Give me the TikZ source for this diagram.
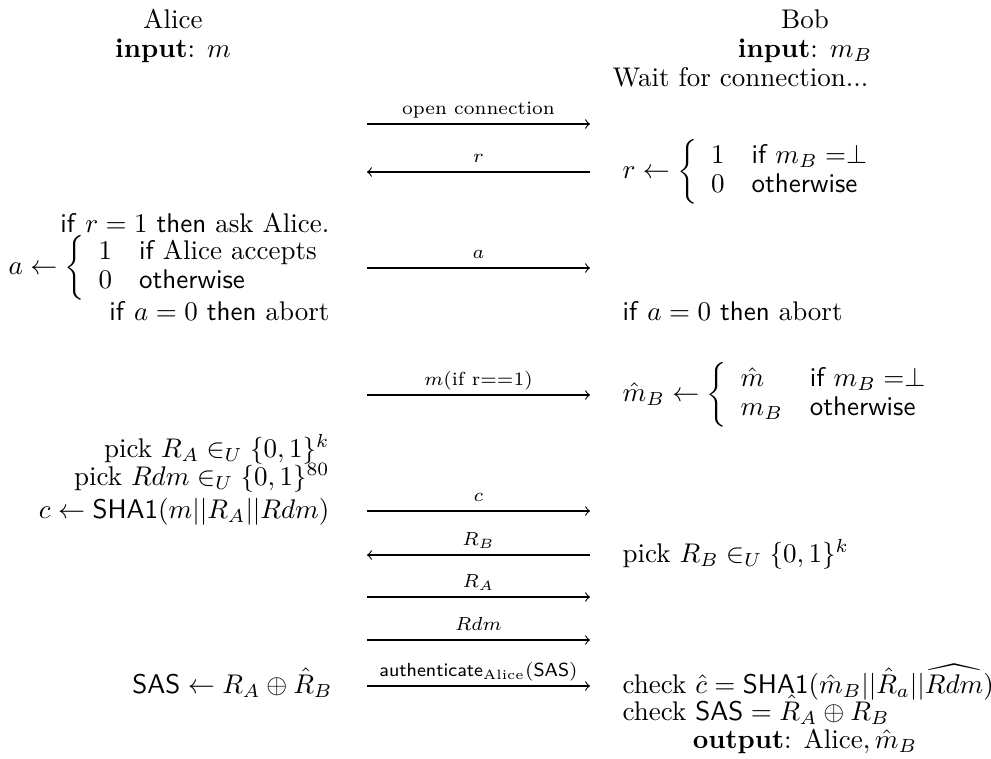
\documentclass[tikz,border=0pt]{standalone}
\usepackage{amsmath,amssymb}
\newcommand{\twocase}[4]{\left\{\renewcommand{\arraystretch}{0.9}\begin{array}{ll} #1 & #2 \\ #3 & #4 \end{array}\right.}
\begin{document}
\begin{tikzpicture}[x=0.3704pt,y=-0.3704pt,every node/.style={inner sep=0pt},
  alc/.style={anchor=base east},bobc/.style={anchor=base west},hdr/.style={anchor=base},
  msg/.style={->},lbl/.style={font=\scriptsize,anchor=base,yshift=3.4pt}]
\useasboundingbox (0,0) rectangle (991,758);
% parties
\node[hdr] (alice) at (173,28) {Alice}; \node[hdr] (ain) at (173,57) {\textbf{input}: $m$};
\node[hdr] (bob) at (805,28) {Bob}; \node[hdr] (bin) at (805,57) {\textbf{input}: $m_B$};
\node[bobc] (wait) at (612,86) {Wait for connection...};
% message rows
\foreach \n/\y in {open/124,r/172,a/268,m/395,c/511,rb/555,ra/597,rdm/640,auth/686}
  {\coordinate (\n L) at (367,\y); \coordinate (\n R) at (590,\y);}
\draw[msg] (openL) -- node[lbl] {open connection} (openR);
\draw[msg] (rR) -- node[lbl] {$r$} (rL);
\node[anchor=west] (rset) at (622,172) {$r \leftarrow \twocase{1}{\textsf{if } m_B = \perp}{0}{\textsf{otherwise}}$};
\node[alc] (ask) at (330,232) {\textsf{if} $r=1$ \textsf{then} ask Alice.};
\node[anchor=east] (aset) at (334,268) {$a \leftarrow \twocase{1}{\textsf{if } \text{Alice accepts}}{0}{\textsf{otherwise}}$};
\draw[msg] (aL) -- node[lbl] {$a$} (aR);
\node[alc] (aabort) at (330,320) {\textsf{if} $a=0$ \textsf{then} abort};
\node[bobc] (babort) at (622,320) {\textsf{if} $a=0$ \textsf{then} abort};
\draw[msg] (mL) -- node[lbl] {$m(\text{if r==1})$} (mR);
\node[anchor=west] (mset) at (622,395) {$\hat{m}_B \leftarrow \twocase{\hat{m}}{\textsf{if } m_B = \perp}{m_B}{\textsf{otherwise}}$};
% commitment
\node[alc] (pra) at (330,457) {pick $R_A \in_U \{0,1\}^k$};
\node[alc] (prdm) at (330,485) {pick $Rdm \in_U \{0,1\}^{80}$};
\node[alc] (comm) at (330,518) {$c \leftarrow \textsf{SHA1}(m||R_A||Rdm)$};
\draw[msg] (cL) -- node[lbl] {$c$} (cR);
\draw[msg] (rbR) -- node[lbl] {$R_B$} (rbL);
\node[bobc] (prb) at (622,562) {pick $R_B \in_U \{0,1\}^k$};
\draw[msg] (raL) -- node[lbl] {$R_A$} (raR);
\draw[msg] (rdmL) -- node[lbl] {$Rdm$} (rdmR);
\draw[msg] (authL) -- node[lbl] {$\textsf{authenticate}_{\text{Alice}}(\textsf{SAS})$} (authR);
\node[alc] (sas) at (333,693) {$\textsf{SAS} \leftarrow R_A \oplus \hat{R}_B$};
\node[bobc] (chkc) at (622,693) {check $\hat{c} = \textsf{SHA1}(\hat{m}_B||\hat{R}_a||\widehat{Rdm})$};
\node[bobc] (chks) at (622,720) {check $\textsf{SAS} = \hat{R}_A \oplus R_B$};
\node[hdr] (bout) at (805,748) {\textbf{output}: $\text{Alice}, \hat{m}_B$};
\end{tikzpicture}
\end{document}
